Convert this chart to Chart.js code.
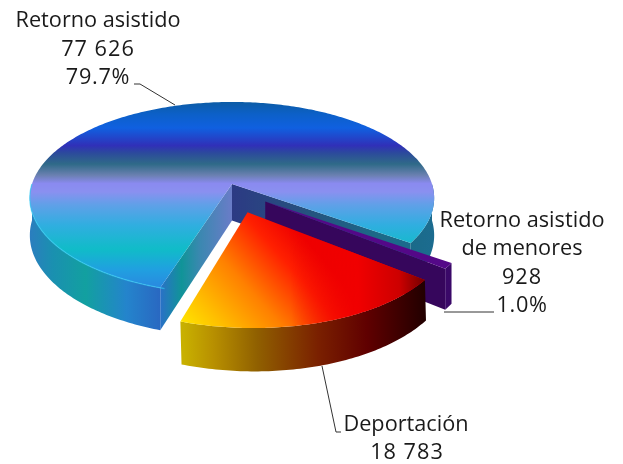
<!DOCTYPE html>
<html><head><meta charset="utf-8">
<style>html,body{margin:0;padding:0;background:#fff}#w{position:relative;width:623px;height:464px}</style>
<script src="https://cdn.jsdelivr.net/npm/chart.js@4/dist/chart.umd.js"></script>
</head><body><div id="w"><canvas id="c" width="623" height="464"></canvas></div>
<script>
const categories = ["Retorno asistido", "Retorno asistido de menores", "Deportación"];
const values = [77626, 928, 18783];
const valueLabels = ["77 626", "928", "18 783"];
const percentLabels = ["79.7%", "1.0%"];

const CX=232, CY=184, RX=200, RY=94, K=0.146, D=36.5;
function pr(u,v,z){const s=1/(1-K*v);return [CX+RX*u*s, CY+RY*v*s+D*z*s];}
function grad(ctx,x0,y0,x1,y1,stops){const g=ctx.createLinearGradient(x0,y0,x1,y1);stops.forEach(s=>g.addColorStop(s[0],s[1]));return g;}
function poly(ctx,pts,fill){ctx.beginPath();pts.forEach((p,i)=>i?ctx.lineTo(p[0],p[1]):ctx.moveTo(p[0],p[1]));ctx.closePath();ctx.fillStyle=fill;ctx.fill();}
function arcPts(ou,ov,a0,a1,z){const n=Math.max(2,Math.ceil(Math.abs(a1-a0)/0.015)),r=[];for(let i=0;i<=n;i++){const a=a0+(a1-a0)*i/n;r.push(pr(ou+Math.cos(a),ov+Math.sin(a),z));}return r;}
function face(ctx,o,a0,a1,fill){poly(ctx,[pr(o[0],o[1],0)].concat(arcPts(o[0],o[1],a0,a1,0)),fill);}
function outer(ctx,o,a0,a1,fill){poly(ctx,arcPts(o[0],o[1],a0,a1,0).concat(arcPts(o[0],o[1],a0,a1,1).reverse()),fill);}
function wall(ctx,o,a,fill){const e=[o[0]+Math.cos(a),o[1]+Math.sin(a)];poly(ctx,[pr(o[0],o[1],0),pr(e[0],e[1],0),pr(e[0],e[1],1),pr(o[0],o[1],1)],fill);}
function rim(ctx,o,a0,a1,col,w){const p=arcPts(o[0],o[1],a0,a1,0);ctx.beginPath();p.forEach((q,i)=>i?ctx.lineTo(q[0],q[1]):ctx.moveTo(q[0],q[1]));ctx.strokeStyle=col;ctx.lineWidth=w;ctx.stroke();}

const pie3d={id:'pie3d',
 beforeDatasetsDraw(chart){
  const ctx=chart.ctx, arcs=chart.getDatasetMeta(0).data;
  const geo=arcs.map(e=>{const mid=(e.startAngle+e.endAngle)/2,f=(e.options.offset||0)/e.outerRadius;
    return {a0:e.startAngle,a1:e.endAngle,o:[Math.cos(mid)*f,Math.sin(mid)*f]};});
  ctx.save();
  ctx.filter='blur(0.6px)';
  const b=geo[0],p=geo[1],r=geo[2],T=Math.PI*2;
  // blue
  wall(ctx,b.o,b.a1,grad(ctx,232,0,430,0,[[0,'#2c3a84'],[.35,'#26507e'],[.75,'#1c6a88'],[1,'#1a6a90']]));
  wall(ctx,b.o,b.a0,grad(ctx,232,0,160,0,[[0,'#6a7cc8'],[.45,'#3a88b0'],[.7,'#109498'],[1,'#2a70c8']]));
  outer(ctx,b.o,b.a0,Math.PI,grad(ctx,28,0,165,0,[[0,'#2c7cc0'],[.18,'#1a90b0'],[.42,'#12a0a0'],[.72,'#2484cc'],[1,'#2a64c0']]));
  outer(ctx,b.o,T,b.a1,grad(ctx,405,0,436,0,[[0,'#1a6a88'],[1,'#1c6c90']]));
  const bt=grad(ctx,0,103,0,288,[[0,'#0c5ca8'],[.06,'#0c60c8'],[.135,'#1060e0'],[.23,'#3030b8'],[.27,'#2c4a9c'],[.33,'#2f6a88'],[.39,'#6a80b0'],[.435,'#8a8af0'],[.48,'#8a90f0'],[.55,'#60a0e8'],[.66,'#30aee0'],[.79,'#10bcc8'],[.9,'#20a0e0'],[1,'#2a88e0']]);
  face(ctx,b.o,b.a0,b.a1,bt);
  rim(ctx,b.o,b.a0-0.02,Math.PI,'rgba(50,205,245,.6)',1.4);
  // purple
  ctx.save();
  ctx.translate(-5,4);
  wall(ctx,p.o,p.a1,'#36065c');
  outer(ctx,p.o,p.a0,p.a1,'#3a0868');
  face(ctx,p.o,p.a0,p.a1,'#540888');
  ctx.restore();
  // red
  ctx.save();
  ctx.translate(247,212);ctx.transform(1,0,.027,1,0,0);ctx.scale(.97,.97);ctx.translate(-247,-208);
  outer(ctx,r.o,r.a0,r.a1,grad(ctx,178,0,430,0,[[0,'#c8b000'],[.12,'#b89000'],[.3,'#906000'],[.55,'#7a2000'],[.75,'#600000'],[1,'#200000']]));
  face(ctx,r.o,r.a0,r.a1,grad(ctx,175,325,295,222,[[0,'#ffe800'],[.2,'#ffc000'],[.5,'#ff8000'],[.8,'#ff2000'],[1,'#ee0000']]));
  face(ctx,r.o,r.a0,r.a1,grad(ctx,290,0,430,0,[[0,'rgba(240,0,0,0)'],[.5,'rgba(240,0,0,1)'],[.8,'rgba(205,0,0,1)'],[1,'rgba(110,0,0,1)']]));
  ctx.restore();
  ctx.restore();
  return false;
 },
 afterDraw(chart){
  const ctx=chart.ctx;
  ctx.save();
  ctx.strokeStyle='#333';ctx.lineWidth=1;
  [[[134,84],[140,84],[175,105]],[[444,312],[494,312]],[[322,366],[336,432],[341,432]]].forEach(l=>{
    ctx.beginPath();l.forEach((q,i)=>i?ctx.lineTo(q[0],q[1]):ctx.moveTo(q[0],q[1]));ctx.stroke();});
  ctx.fillStyle='#1a1a1a';ctx.textAlign='center';ctx.textBaseline='middle';
  const W=(s,x,y,ls)=>{ctx.font='21.7px "Open Sans"';ctx.letterSpacing=(ls||0)+'px';ctx.fillText(s,x,y);};
  W(categories[0],98,21);W(valueLabels[0],98,50,1);W(percentLabels[0],98,78,.7);
  W("Retorno asistido",522,221);W("de menores",522,249);W(valueLabels[1],522,278,1);W(percentLabels[1],522,306,.7);
  W(categories[2],406,425);W(valueLabels[2],407,453,1);
  ctx.restore();
 }};
new Chart(document.getElementById('c'),{type:'pie',
 data:{labels:categories,datasets:[{data:values,backgroundColor:['#1060e0','#5a0890','#ff7000'],borderWidth:0,offset:[0,48,53.5]}]},
 options:{responsive:false,animation:false,rotation:198,layout:{padding:0},
  plugins:{legend:{display:false},tooltip:{enabled:false}}},
 plugins:[pie3d]});
</script></body></html>
